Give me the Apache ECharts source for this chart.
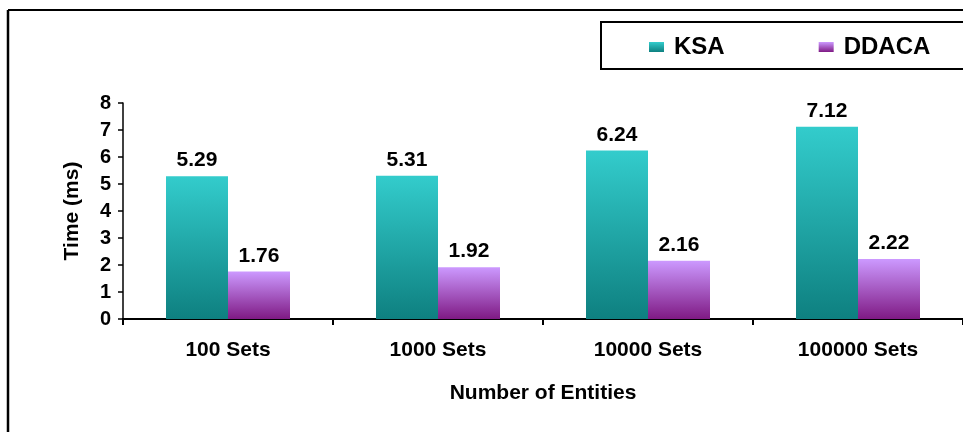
<!DOCTYPE html>
<html>
<head>
<meta charset="utf-8">
<script src="https://cdn.jsdelivr.net/npm/echarts@6/dist/echarts.min.js"></script>
<style>html,body{margin:0;padding:0;background:#fff}#c{width:963px;height:432px}</style>
</head>
<body>
<div id="c"></div>
<script>
const categories = ['100 Sets', '1000 Sets', '10000 Sets', '100000 Sets'];
const ksaValues = [5.29, 5.31, 6.24, 7.12];
const ddacaValues = [1.76, 1.92, 2.16, 2.22];
const seriesNames = ['KSA', 'DDACA'];

const chart = echarts.init(document.getElementById('c'), null, {renderer: 'canvas'});
const font = 'Arial, "Liberation Sans", sans-serif';
function grad(top, bottom) {
  return new echarts.graphic.LinearGradient(0, 0, 0, 1, [
    {offset: 0, color: top}, {offset: 1, color: bottom}
  ]);
}
const labelStyle = {show: true, position: 'top', distance: 5, fontFamily: font, fontWeight: 'bold', fontSize: 21, color: '#000', formatter: p => p.value.toFixed(2)};
chart.setOption({
  backgroundColor: '#fff',
  animation: false,
  graphic: [
    {type: 'line', shape: {x1: 8, y1: 10, x2: 963, y2: 10}, style: {stroke: '#000', lineWidth: 2}},
    {type: 'line', shape: {x1: 8, y1: 10, x2: 8, y2: 432}, style: {stroke: '#000', lineWidth: 2.5}},
    {type: 'rect', shape: {x: 601, y: 22, width: 370, height: 47}, style: {fill: '#fff', stroke: '#000', lineWidth: 2}},
    {type: 'line', shape: {x1: 123, y1: 318, x2: 123, y2: 322}, style: {stroke: '#000', lineWidth: 1.5}}
  ],
  legend: {
    data: seriesNames,
    left: 644, top: 30,
    itemWidth: 15, itemHeight: 10, itemGap: 94,
    icon: 'rect',
    textStyle: {fontFamily: font, fontWeight: 'bold', fontSize: 24, color: '#000', padding: [0, 0, 0, 5]},
    z: 10
  },
  grid: {left: 123, top: 103, width: 844, height: 216, containLabel: false},
  xAxis: {
    type: 'category',
    data: categories,
    offset: 3,
    name: 'Number of Entities',
    nameLocation: 'middle',
    nameGap: 61,
    nameTextStyle: {fontFamily: font, fontWeight: 'bold', fontSize: 21, color: '#000'},
    axisLine: {lineStyle: {color: '#000', width: 2}},
    axisTick: {show: true, alignWithLabel: false, length: 6, lineStyle: {color: '#000', width: 2}},
    axisLabel: {fontFamily: font, fontWeight: 'bold', fontSize: 21, color: '#000', margin: 18}
  },
  yAxis: {
    type: 'value',
    min: 0, max: 8, interval: 1,
    name: 'Time (ms)',
    nameLocation: 'middle',
    nameGap: 40,
    nameRotate: 90,
    nameTextStyle: {fontFamily: font, fontWeight: 'bold', fontSize: 21, color: '#000'},
    axisLine: {show: true, lineStyle: {color: '#000', width: 1.5}},
    axisTick: {show: true, inside: false, length: 5, lineStyle: {color: '#000', width: 1.5}},
    splitLine: {show: false},
    axisLabel: {fontFamily: font, fontWeight: 'bold', fontSize: 20, color: '#000', margin: 12}
  },
  series: [
    {name: seriesNames[0], type: 'bar', data: ksaValues, barWidth: 62, barGap: '0%',
     itemStyle: {color: grad('#33cccc', '#0e8080')}, label: labelStyle},
    {name: seriesNames[1], type: 'bar', data: ddacaValues, barWidth: 62, barGap: '0%',
     itemStyle: {color: grad('#cc99ff', '#7f1a84')}, label: labelStyle}
  ]
});
</script>
</body>
</html>
